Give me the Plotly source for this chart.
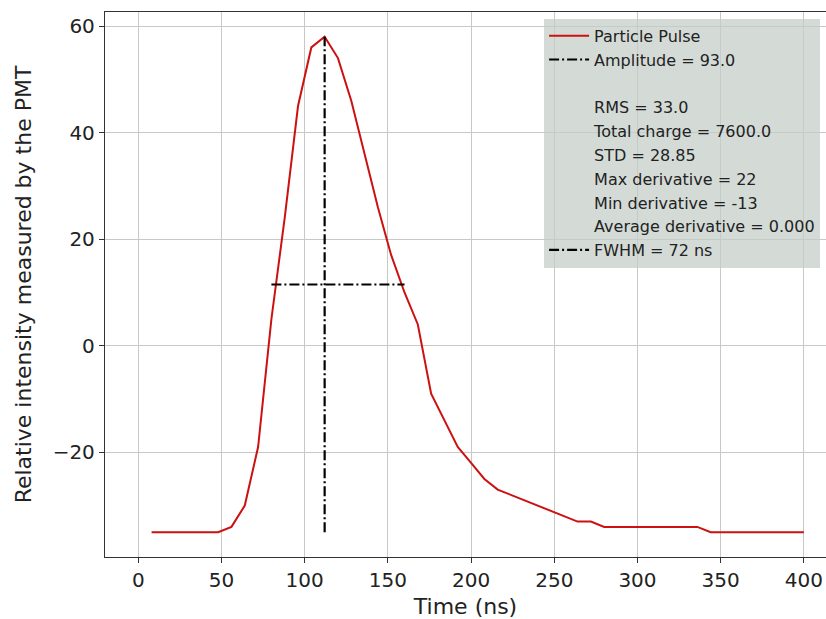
import plotly.graph_objects as go

# ---- data ----
time_ns = [8, 16, 24, 32, 40, 48, 56, 64, 72, 80, 88, 96, 104, 112, 120, 128, 136, 144,
           152, 160, 168, 176, 184, 192, 200, 208, 216, 224, 232, 240, 248, 256, 264,
           272, 280, 288, 296, 304, 312, 320, 328, 336, 344, 352, 360, 368, 376, 384,
           392, 400]
intensity = [-35, -35, -35, -35, -35, -35, -34, -30, -19, 5, 24, 45, 56, 58, 54, 46, 36, 26,
             17, 10, 4, -9, -14, -19, -22, -25, -27, -28, -29, -30, -31, -32, -33,
             -33, -34, -34, -34, -34, -34, -34, -34, -34, -35, -35, -35, -35, -35, -35,
             -35, -35]

peak_time = 112
amp_y = [-35, 58]
fwhm_x = [80, 160]
fwhm_level = 11.5

stats_labels = [" ", "RMS = 33.0", "Total charge = 7600.0", "STD = 28.85",
                "Max derivative = 22", "Min derivative = -13",
                "Average derivative = 0.000"]

x_ticks = [0, 50, 100, 150, 200, 250, 300, 350, 400]
y_ticks = [-20, 0, 20, 40, 60]
y_ticktext = ["\u221220", "0", "20", "40", "60"]

RED = "#cc1111"
DASHDOT = "10px,3px,2px,3px"

fig = go.Figure()
fig.add_trace(go.Scatter(x=time_ns, y=intensity, mode="lines", name="Particle Pulse",
                         line=dict(color=RED, width=2), legendgroup="g0"))
fig.add_trace(go.Scatter(x=[peak_time, peak_time], y=amp_y, mode="lines",
                         name="Amplitude = 93.0",
                         line=dict(color="black", width=2.2, dash=DASHDOT),
                         legendgroup="g1"))
for i, lab in enumerate(stats_labels):
    fig.add_trace(go.Scatter(x=[None], y=[None], mode="lines", name=lab,
                             line=dict(color="rgba(0,0,0,0)", width=0),
                             legendgroup="s%d" % i))
fig.add_trace(go.Scatter(x=fwhm_x, y=[fwhm_level, fwhm_level], mode="lines",
                         name="FWHM = 72 ns",
                         line=dict(color="black", width=2.2, dash=DASHDOT),
                         legendgroup="g9"))

tick_font = dict(family="DejaVu Sans", size=20, color="#222")
title_font = dict(family="DejaVu Sans", size=22, color="#222")
fig.update_layout(
    width=826, height=619,
    margin=dict(l=105, r=0, t=12, b=62),
    paper_bgcolor="white", plot_bgcolor="white",
    font=dict(family="DejaVu Sans", color="#222"),
    showlegend=True,
    legend=dict(x=0.609, y=0.9875, xanchor="left", yanchor="top",
                bgcolor="rgba(195,205,200,0.72)", borderwidth=0,
                font=dict(family="DejaVu Sans", size=16, color="#222"),
                itemwidth=40, tracegroupgap=2, traceorder="normal"),
    xaxis=dict(range=[-20, 413.3], tickvals=x_ticks, ticks="outside", ticklen=5,
               tickcolor="#333", showline=True, linecolor="#333", linewidth=1.3,
               mirror=True, showgrid=True, gridcolor="#c8c8c4", gridwidth=1,
               zeroline=False, tickfont=tick_font,
               title=dict(text="Time (ns)", font=title_font, standoff=7)),
    yaxis=dict(range=[-39.65, 62.65], tickvals=y_ticks, ticktext=y_ticktext,
               ticks="outside", ticklen=5,
               tickcolor="#333", showline=True, linecolor="#333", linewidth=1.3,
               showgrid=True, gridcolor="#c8c8c4", gridwidth=1,
               zeroline=False, tickfont=tick_font,
               title=dict(text="Relative intensity measured by the PMT",
                          font=title_font, standoff=14)),
)

fig.write_html("out.html",
               config={"displayModeBar": False},
               post_script="document.body.style.margin='0';"
                           "document.body.style.overflow='hidden';")
